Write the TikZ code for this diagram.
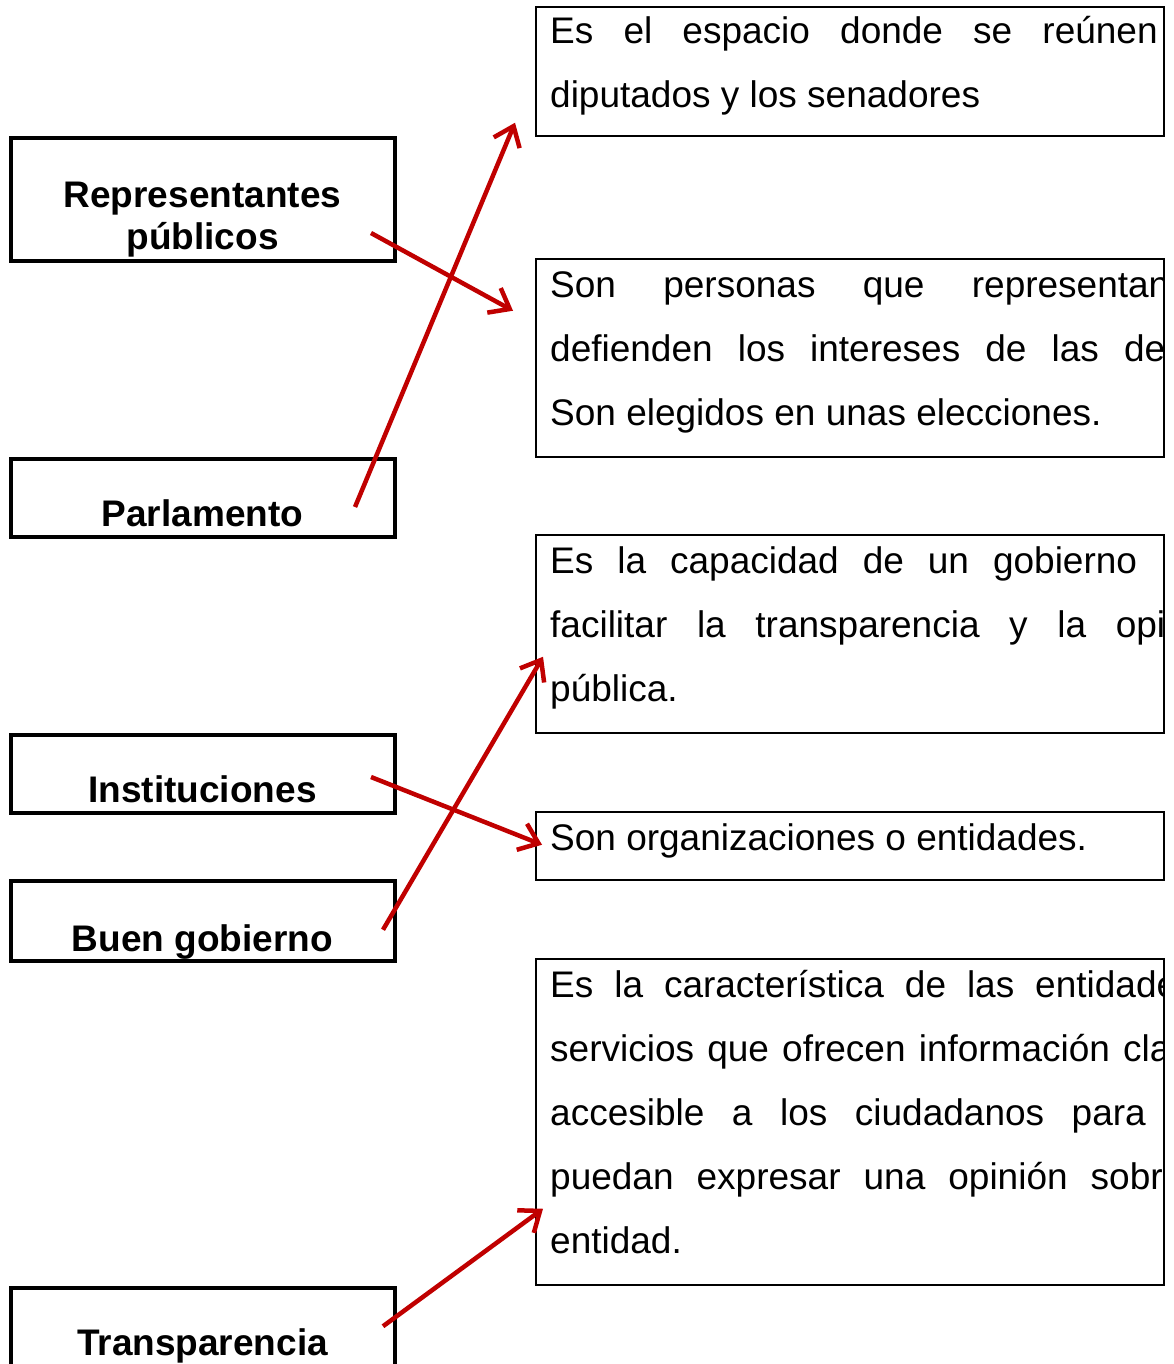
\documentclass[tikz,border=0pt]{standalone}
\usepackage{fontspec}
\setmainfont{Liberation Sans}
\usetikzlibrary{arrows.meta,calc}
\definecolor{rojo}{HTML}{C00000}
\tolerance=10000
\hbadness=10000

\begin{document}
\begin{tikzpicture}[x=1pt,y=-1pt,
concepto/.style={draw,line width=4pt,rectangle,minimum width=384pt,inner sep=0pt,outer sep=0pt,
    anchor=north,font=\fontsize{37}{42}\selectfont\bfseries},
definicion/.style={draw,line width=2pt,rectangle,minimum width=628pt,inner sep=0pt,outer sep=0pt,
    anchor=north west},
texto/.style={text width=685pt,align=justify,inner sep=0pt,anchor=north west,
    font=\fontsize{37}{64}\selectfont},
flecha/.style={draw=rojo,line width=4.5pt,-{Straight Barb[length=18pt,width=28pt]}}]
\clip (0,0) rectangle (1174,1364);

% conceptos
\node (rep) [concepto,text height=110.8pt,text depth=11.2pt] at (202.5,138.5)
    {\parbox[b]{380pt}{\centering Representantes\\públicos}};
\node (parl) [concepto,text height=67.5pt,text depth=11pt] at (202.5,458.5) {Parlamento};
\node (inst) [concepto,text height=67.8pt,text depth=10.2pt] at (202.5,734.5) {Instituciones};
\node (buen) [concepto,text height=70pt,text depth=9.5pt] at (202.5,881) {Buen gobierno};
\node (trans) [concepto,text height=67.5pt,text depth=30pt] at (202.5,1287.5) {Transparencia};

% definiciones
\node (espacio) [definicion,minimum height=129.5pt] at (536,7) {};
\begin{scope}
\clip (espacio.north west) rectangle (espacio.south east);
\node (espacio-txt) [texto] at ($(espacio.north west)+(14,-4)$)
    {\rule{0pt}{40pt}Es el espacio donde se reúnen los\linebreak diputados y los senadores};
\end{scope}

\node (personas) [definicion,minimum height=197.5pt] at (536,259) {};
\begin{scope}
\clip (personas.north west) rectangle (personas.south east);
\node (personas-txt) [texto] at ($(personas.north west)+(14,-2)$)
    {\rule{0pt}{40pt}Son personas que representan y\linebreak defienden los intereses de las demás\linebreak Son elegidos en unas elecciones.};
\end{scope}

\node (capacidad) [definicion,minimum height=197.5pt] at (536,535) {};
\begin{scope}
\clip (capacidad.north west) rectangle (capacidad.south east);
\node (capacidad-txt) [texto] at ($(capacidad.north west)+(14,-2)$)
    {\rule{0pt}{40pt}Es la capacidad de un gobierno para\linebreak facilitar la transparencia y la opinión\linebreak pública.};
\end{scope}

\node (organiz) [definicion,minimum height=67.5pt] at (536,812) {};
\begin{scope}
\clip (organiz.north west) rectangle (organiz.south east);
\node (organiz-txt) [texto] at ($(organiz.north west)+(14,-2)$)
    {\rule{0pt}{40pt}Son organizaciones o entidades.};
\end{scope}

\node (caract) [definicion,minimum height=325.5pt] at (536,959) {};
\begin{scope}
\clip (caract.north west) rectangle (caract.south east);
\node (caract-txt) [texto] at ($(caract.north west)+(14,-2)$)
    {\rule{0pt}{40pt}Es la característica de las entidades y\linebreak servicios que ofrecen información clara y\linebreak accesible a los ciudadanos para que\linebreak puedan expresar una opinión sobre la\linebreak entidad.};
\end{scope}

% flechas
\draw[flecha] ($(rep.east)+(-23.5,33.5)$) -- ($(personas.west)+(-23,-47)$);
\draw[flecha] ($(parl.east)+(-39.5,9.25)$) -- ($(espacio.west)+(-21,51)$);
\draw[flecha] ($(inst.east)+(-23.5,3.5)$) -- ($(organiz.west)+(6,-1)$);
\draw[flecha] ($(buen.east)+(-11.5,9)$) -- ($(capacidad.west)+(7,23)$);
\draw[flecha] ($(trans.east)+(-11.5,-10)$) -- ($(caract.west)+(7,87)$);
\end{tikzpicture}
\end{document}
